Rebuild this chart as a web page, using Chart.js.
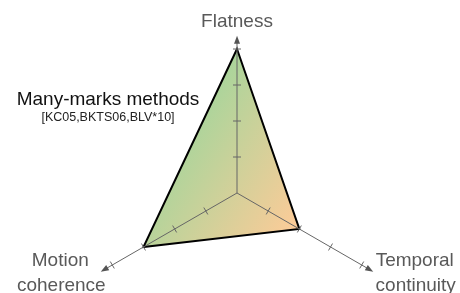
<!DOCTYPE html>
<html>
<head>
<meta charset="utf-8">
<script src="https://cdn.jsdelivr.net/npm/chart.js@4/dist/chart.umd.min.js"></script>
<style>
  html, body { margin: 0; padding: 0; background: #fff; overflow: hidden; }
  #wrap { width: 460px; height: 293px; position: relative; overflow: hidden; }
  #c { position: absolute; left: 0; top: 0; }
</style>
</head>
<body>
<div id="wrap"><canvas id="c" width="460" height="337"></canvas></div>
<script>
const categories = ['Flatness', 'Temporal continuity', 'Motion coherence'];
const labelLines = [['Flatness'], ['Temporal', 'continuity'], ['Motion', 'coherence']];
const seriesValues = [4, 2, 3];
const tickValues = [1, 2, 3, 4];
const axisMax = 4;
const arrowValue = 4.37;
const titleText = 'Many-marks methods';
const subtitleText = '[KC05,BKTS06,BLV*10]';

const FONT = '"Liberation Sans", Arial, Helvetica, sans-serif';

const decor = {
  id: 'decor',
  afterDatasetsDraw(chart) {
    const s = chart.scales.r;
    const ctx = chart.ctx;
    const cx = s.xCenter, cy = s.yCenter;
    ctx.save();
    ctx.strokeStyle = '#666';
    ctx.fillStyle = '#555';
    ctx.lineWidth = 1;
    for (let i = 0; i < categories.length; i++) {
      const tip = s.getPointPositionForValue(i, arrowValue);
      const dx = tip.x - cx, dy = tip.y - cy;
      const len = Math.hypot(dx, dy);
      const ux = dx / len, uy = dy / len;
      const px = -uy, py = ux;
      const baseX = tip.x - ux * 8, baseY = tip.y - uy * 8;
      ctx.beginPath();
      ctx.moveTo(cx, cy);
      ctx.lineTo(baseX + ux * 1, baseY + uy * 1);
      ctx.stroke();
      ctx.beginPath();
      ctx.moveTo(tip.x, tip.y);
      ctx.lineTo(baseX + px * 3, baseY + py * 3);
      ctx.lineTo(baseX - px * 3, baseY - py * 3);
      ctx.closePath();
      ctx.fill();
      for (const t of tickValues) {
        const p = s.getPointPositionForValue(i, t);
        ctx.beginPath();
        ctx.moveTo(p.x + px * 4, p.y + py * 4);
        ctx.lineTo(p.x - px * 4, p.y - py * 4);
        ctx.stroke();
      }
    }
    // axis labels
    ctx.fillStyle = '#595959';
    ctx.font = '19px ' + FONT;
    ctx.textAlign = 'center';
    ctx.textBaseline = 'alphabetic';
    const offsets = [
      [{dx: 0, dy: -22.5}],
      [{dx: 53, dy: 1}, {dx: 54, dy: 26}],
      [{dx: -52, dy: 1}, {dx: -51, dy: 26}]
    ];
    for (let i = 0; i < categories.length; i++) {
      const p = s.getPointPositionForValue(i, axisMax);
      labelLines[i].forEach((line, k) => {
        ctx.fillText(line, p.x + offsets[i][k].dx, p.y + offsets[i][k].dy);
      });
    }
    // title
    ctx.fillStyle = '#111';
    ctx.font = '19px ' + FONT;
    ctx.fillText(titleText, 108, 105);
    ctx.fillStyle = '#222';
    ctx.font = '12.5px ' + FONT;
    ctx.fillText(subtitleText, 108, 121);
    ctx.restore();
  }
};

function fillGradient(context) {
  const chart = context.chart;
  const s = chart.scales.r;
  if (!s || !chart.chartArea) return '#cfd59a';
  const g = chart.ctx.createLinearGradient(s.xCenter - 67, s.yCenter - 43, s.xCenter + 63, s.yCenter + 37);
  g.addColorStop(0, '#a8d59b');
  g.addColorStop(1, '#ffcb98');
  return g;
}

new Chart(document.getElementById('c'), {
  type: 'radar',
  data: {
    labels: categories,
    datasets: [{
      data: seriesValues,
      backgroundColor: fillGradient,
      borderColor: '#000',
      borderWidth: 2,
      pointRadius: 0,
      fill: true,
      clip: false,
      tension: 0
    }]
  },
  options: {
    responsive: false,
    animation: false,
    devicePixelRatio: 1,
    layout: { padding: { left: 14, right: 0, top: 49, bottom: 0 } },
    plugins: { legend: { display: false }, tooltip: { enabled: false }, title: { display: false } },
    scales: {
      r: {
        min: 0,
        max: axisMax,
        ticks: { display: false, stepSize: 1 },
        grid: { display: false },
        angleLines: { display: false },
        pointLabels: { display: false }
      }
    }
  },
  plugins: [decor]
});
</script>
</body>
</html>
